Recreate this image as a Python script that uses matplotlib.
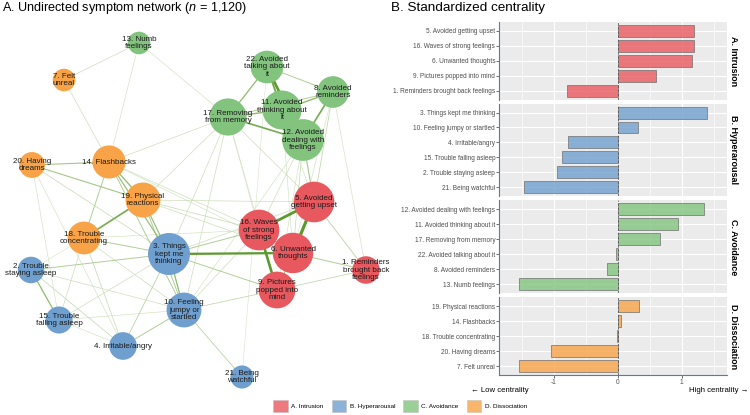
import numpy as np
import matplotlib.pyplot as plt
from matplotlib.patches import Patch
from matplotlib.colors import to_rgb

plt.rcParams['font.family'] = ['Liberation Sans', 'DejaVu Sans']
plt.rcParams['mathtext.fontset'] = 'custom'
plt.rcParams['mathtext.it'] = 'Liberation Sans:italic'
plt.rcParams['mathtext.rm'] = 'Liberation Sans'

# clusters
clusters = ['A. Intrusion', 'B. Hyperarousal', 'C. Avoidance', 'D. Dissociation']
cluster_colors = ['#E8595F', '#6F9FCE', '#82C47E', '#F8A347']

# symptoms 1..22
bar_labels = ['1. Reminders brought back feelings', '2. Trouble staying asleep',
              '3. Things kept me thinking', '4. Irritable/angry',
              '5. Avoided getting upset', '6. Unwanted thoughts', '7. Felt unreal',
              '8. Avoided reminders', '9. Pictures popped into mind',
              '10. Feeling jumpy or startled', '11. Avoided thinking about it',
              '12. Avoided dealing with feelings', '13. Numb feelings',
              '14. Flashbacks', '15. Trouble falling asleep',
              '16. Waves of strong feelings', '17. Removing from memory',
              '18. Trouble concentrating', '19. Physical reactions',
              '20. Having dreams', '21. Being watchful',
              '22. Avoided talking about it']
node_labels = ['1. Reminders\nbrought back\nfeelings', '2. Trouble\nstaying asleep',
               '3. Things\nkept me\nthinking', '4. Irritable/angry',
               '5. Avoided\ngetting upset', '6. Unwanted\nthoughts', '7. Felt\nunreal',
               '8. Avoided\nreminders', '9. Pictures\npopped into\nmind',
               '10. Feeling\njumpy or\nstartled', '11. Avoided\nthinking about\nit',
               '12. Avoided\ndealing with\nfeelings', '13. Numb\nfeelings',
               '14. Flashbacks', '15. Trouble\nfalling asleep',
               '16. Waves\nof strong\nfeelings', '17. Removing\nfrom memory',
               '18. Trouble\nconcentrating', '19. Physical\nreactions',
               '20. Having\ndreams', '21. Being\nwatchful',
               '22. Avoided\ntalking about\nit']
sym_cluster = [0, 1, 1, 1, 0, 0, 3, 2, 0, 1, 2, 2, 2, 3, 1, 0, 2, 3, 3, 3, 1, 2]
centrality = [-0.80, -0.95, 1.39, -0.78, 1.195, 1.16, -1.55, -0.17, 0.60, 0.31, 0.94,
              1.35, -1.55, 0.05, -0.87, 1.19, 0.66, -0.005, 0.33, -1.05, -1.47, -0.02]

# network layout
layout_x = [366, 31, 169, 123, 314, 293, 64, 333, 277, 184, 282,
            303, 139, 109, 59, 259, 228, 84, 143, 32, 242, 267]
layout_y = [270, 270, 254, 346, 202, 253, 80, 92, 290, 310, 110,
            140, 43, 162, 320, 230, 117, 238, 200, 165, 377, 67]

# edges (node a, node b, weight)
edges = [(5, 6, 0.36), (5, 16, 0.32), (16, 9, 0.30), (3, 6, 0.26), (22, 12, 0.30),
         (22, 11, 0.22), (11, 12, 0.20), (17, 12, 0.20), (17, 11, 0.16), (11, 8, 0.16),
         (8, 12, 0.20), (22, 17, 0.15), (22, 8, 0.10), (17, 8, 0.10), (12, 5, 0.12),
         (8, 5, 0.07), (12, 6, 0.06), (12, 16, 0.05), (16, 6, 0.14), (6, 9, 0.12),
         (6, 1, 0.10), (5, 1, 0.08), (9, 1, 0.07), (3, 16, 0.10), (3, 9, 0.10),
         (10, 9, 0.07), (10, 16, 0.05), (3, 5, 0.05), (19, 5, 0.05), (19, 16, 0.06),
         (19, 6, 0.05), (14, 16, 0.05), (14, 6, 0.04), (18, 16, 0.04), (19, 18, 0.20),
         (14, 19, 0.15), (14, 3, 0.14), (19, 3, 0.14), (14, 10, 0.10), (19, 10, 0.10),
         (14, 20, 0.12), (20, 19, 0.12), (20, 3, 0.06), (20, 15, 0.04), (20, 4, 0.04),
         (14, 18, 0.10), (14, 7, 0.05), (7, 13, 0.05), (13, 14, 0.04), (13, 17, 0.04),
         (14, 17, 0.05), (18, 3, 0.10), (18, 2, 0.03), (2, 3, 0.10), (2, 15, 0.15),
         (2, 4, 0.06), (2, 10, 0.05), (18, 15, 0.05), (18, 4, 0.06), (18, 10, 0.05),
         (15, 3, 0.05), (15, 10, 0.04), (15, 4, 0.04), (4, 3, 0.08), (4, 10, 0.10),
         (3, 10, 0.15), (10, 21, 0.08), (21, 22, 0.03), (17, 3, 0.05), (17, 10, 0.05),
         (17, 19, 0.05), (17, 9, 0.04), (17, 5, 0.05), (17, 16, 0.04), (12, 9, 0.04),
         (12, 10, 0.04), (11, 5, 0.04), (11, 6, 0.04), (8, 1, 0.04), (8, 6, 0.04)]

W, H = 750, 415
fig = plt.figure(figsize=(W / 100, H / 100), dpi=100)

# ---------------- A. network ----------------
ax = fig.add_axes([0, 0, 380 / W, 1])
ax.set_xlim(0, 380)
ax.set_ylim(H, 0)
ax.axis('off')

pale = np.array(to_rgb('#e3ecd6'))
dark = np.array(to_rgb('#5a9a2e'))
wmax = max(e[2] for e in edges)
for a, b, w in sorted(edges, key=lambda e: e[2]):
    t = w / wmax
    ax.plot([layout_x[a - 1], layout_x[b - 1]], [layout_y[a - 1], layout_y[b - 1]],
            color=pale + (dark - pale) * min(1, t * 1.4), lw=0.3 + 2.0 * t ** 1.3,
            zorder=1, solid_capstyle='round')

radius = 16.4 + 3.3 * np.array(centrality)
node_cols = [cluster_colors[c] for c in sym_cluster]
ax.scatter(layout_x, layout_y, s=(1.44 * radius) ** 2, c=node_cols,
           edgecolors='none', zorder=2)
for i in range(22):
    ax.text(layout_x[i], layout_y[i], node_labels[i], ha='center', va='center',
            fontsize=5.8, color='#1a1a1a', zorder=3, linespacing=1.15)

fig.text(2 / W, 1 - 8 / H, 'A. Undirected symptom network ($n$ = 1,120)',
         fontsize=9.1, va='center', ha='left')

# ---------------- B. centrality ----------------
fig.text(391 / W, 1 - 8 / H, 'B. Standardized centrality', fontsize=9.7,
         va='center', ha='left')

px_left, px_right = 499.3, 726.5
px_top, px_bottom, gap = 21.7, 375.0, 4.0
counts = [sym_cluster.count(k) for k in range(4)]
unit = (px_bottom - px_top - 3 * gap) / sum(n + 0.2 for n in counts)

y0 = px_top
for k in range(4):
    idx = [i for i in range(22) if sym_cluster[i] == k]
    idx = sorted(idx, key=lambda i: -centrality[i])
    n = len(idx)
    h = (n + 0.2) * unit
    axb = fig.add_axes([px_left / W, 1 - (y0 + h) / H, (px_right - px_left) / W, h / H])
    y0 += h + gap

    axb.set_facecolor('#EBEBEB')
    vals = [centrality[i] for i in idx]
    pos = np.arange(n)
    axb.barh(pos, vals, height=0.8, color=cluster_colors[k], alpha=0.8,
             edgecolor='#6b6b6b', linewidth=0.6, zorder=3)
    axb.axvline(0, color='#555555', ls=(0, (3, 2)), lw=0.6, zorder=4)
    axb.set_xlim(-1.85, 1.70)
    axb.set_ylim(n - 0.4, -0.6)
    axb.set_yticks(pos)
    axb.set_yticklabels([bar_labels[i] for i in idx])
    axb.set_xticks([-1, 0, 1])
    axb.set_xticks([-1.5, -0.5, 0.5, 1.5], minor=True)
    axb.grid(True, which='major', color='white', lw=0.8, zorder=0)
    axb.grid(True, which='minor', axis='x', color='white', lw=0.4, zorder=0)
    axb.set_axisbelow(True)
    for s in ['top', 'right', 'bottom']:
        axb.spines[s].set_visible(False)
    axb.spines['left'].set_color('#4a7fb0')
    axb.spines['left'].set_linewidth(0.8)
    axb.tick_params(axis='y', length=2, width=0.5, color='#333333',
                    labelsize=4.7, labelcolor='#4D4D4D', pad=1)
    axb.tick_params(axis='x', which='minor', length=0)
    if k == 3:
        axb.spines['bottom'].set_visible(True)
        axb.spines['bottom'].set_color('#4a7fb0')
        axb.spines['bottom'].set_linewidth(0.8)
        axb.tick_params(axis='x', length=2, width=0.5, color='#333333',
                        labelsize=4.7, labelcolor='#4D4D4D', pad=1)
        axb.set_xticklabels(['-1', '0', '1'])
    else:
        axb.tick_params(axis='x', length=0, labelbottom=False)
    axb.text(1.03, 0.5, clusters[k], transform=axb.transAxes, rotation=-90,
             ha='center', va='center', fontsize=6.5, fontweight='bold')

fig.text(500 / W, 1 - 390 / H, '\u2190 Low centrality', fontsize=5.6,
         ha='center', va='center')
fig.text(748 / W, 1 - 390 / H, 'High centrality \u2192', fontsize=5.6,
         ha='right', va='center')

handles = [Patch(facecolor=c, alpha=0.8, edgecolor='#bbbbbb', linewidth=0.4)
           for c in cluster_colors]
fig.legend(handles, clusters, ncol=4, loc='center',
           bbox_to_anchor=(400 / W, 1 - 406 / H), frameon=False, fontsize=4.6,
           handlelength=2.3, handleheight=2.3, handletextpad=0.5,
           columnspacing=1.3, borderpad=0)

fig.savefig('out.png', dpi=100)
